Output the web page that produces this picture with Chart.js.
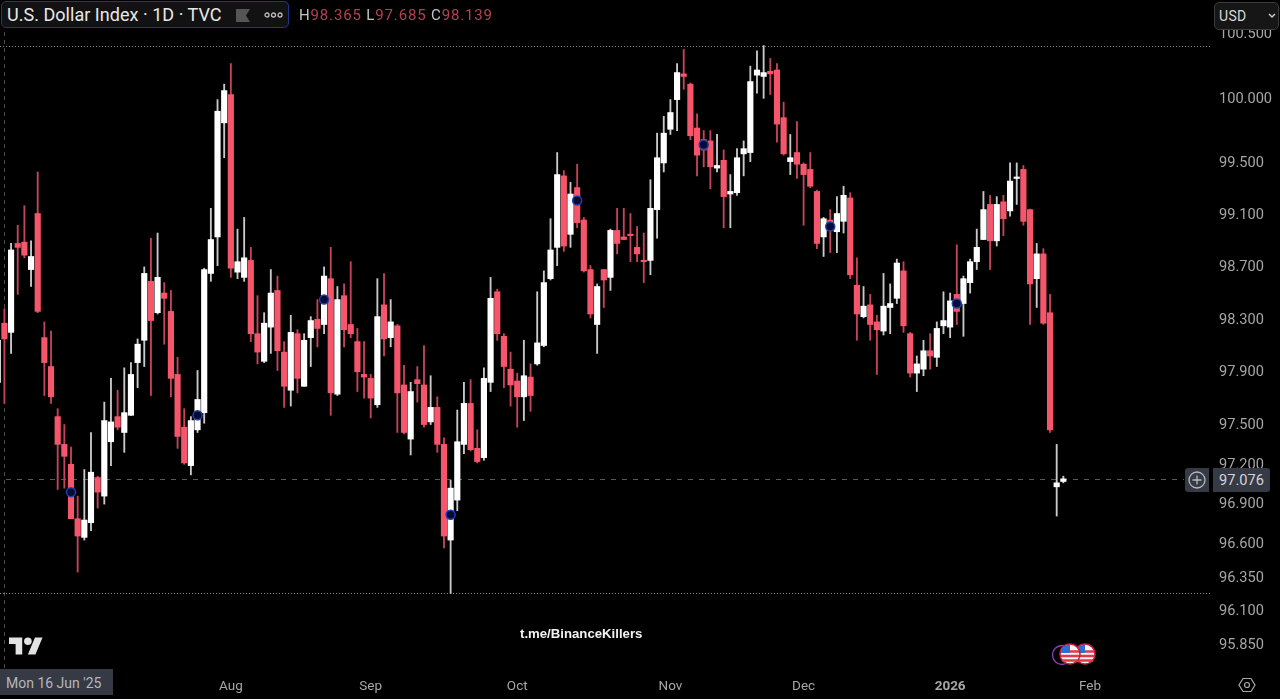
<!DOCTYPE html>
<html><head><meta charset="utf-8">
<script src="https://cdn.jsdelivr.net/npm/chart.js@4"></script>
<style>
html,body{margin:0;padding:0;background:#000;width:1280px;height:699px;overflow:hidden;font-family:"Roboto","Liberation Sans",sans-serif}
#c{position:absolute;left:0;top:0}
.o{position:absolute;white-space:nowrap;box-sizing:border-box}
#hdr{left:1px;top:1px;width:288px;height:27px;background:#121212;border:1.5px solid #1d3790;border-radius:5px;color:#e8e8e8;font-size:18px;line-height:25px;padding-left:5px;letter-spacing:.03px}
#ohlc{left:299px;top:6px;font-size:15px;line-height:18px;color:#c4c4c4;letter-spacing:.85px}
#ohlc span{color:#b8414f}
#usd{left:1214px;top:2px;width:65px;height:28px;background:#161616;border:1px solid #3c3c3c;border-radius:5px;color:#d8d8d8;font-size:14px;line-height:26px;padding-left:4px;letter-spacing:.3px}
#tag{left:1213px;top:468px;width:57px;height:24px;background:#363a45;border-radius:0 3px 3px 0;color:#d2d4da;font-size:14.6px;line-height:24px;padding-left:6px}
#plus{left:1185px;top:468px;width:24px;height:24px;background:#363a45;border-radius:3px 0 0 3px}
#date{left:0;top:669px;width:113px;height:26px;background:#363a45;color:#b4b6bc;font-size:14px;line-height:28px;padding-left:6px}
#wm{left:520px;top:626px;color:#f2f2f2;font:bold 13.2px "Liberation Sans",sans-serif;line-height:16px}
svg.o{overflow:visible}
</style></head><body>
<canvas id="c" width="1280" height="699"></canvas>
<div class="o" id="hdr">U.S. Dollar Index · 1D · TVC</div>
<svg class="o" style="left:236px;top:9px" width="14" height="13"><path d="M0 0H14L10 6.500L14 13H0Z" fill="#555"/></svg>
<svg class="o" style="left:264px;top:11px" width="20" height="8"><g fill="none" stroke="#bbb" stroke-width="1.300"><circle cx="3" cy="4" r="2"/><circle cx="9.500" cy="4" r="2"/><circle cx="16" cy="4" r="2"/></g></svg>
<div class="o" id="ohlc">H<span>98.365</span> L<span>97.685</span> C<span>98.139</span></div>
<div class="o" id="usd">USD</div>
<svg class="o" style="left:1268px;top:13px" width="8" height="6"><path d="M1 1L4 4L7 1" fill="none" stroke="#ccc" stroke-width="1.500"/></svg>
<div class="o" id="plus"></div>
<svg class="o" style="left:1188px;top:471px" width="18" height="18"><circle cx="9" cy="9" r="8" fill="none" stroke="#b8bac0" stroke-width="1.300"/><path d="M9 4.500V13.500M4.500 9H13.500" stroke="#b8bac0" stroke-width="1.300"/></svg>
<div class="o" id="tag">97.076</div>
<div class="o" id="date">Mon 16 Jun '25</div>
<svg class="o" style="left:9px;top:637px" width="34" height="18" viewBox="0 4 36 18"><path d="M14 22H7V11H0V4h14v18zM28 22h-8l7.500-18h8L28 22z" fill="#e2e2e2"/><circle cx="20" cy="8" r="4" fill="#e2e2e2"/></svg>
<div class="o" id="wm">t.me/BinanceKillers</div>
<svg class="o" style="left:1050px;top:641px" width="48" height="27">
<circle cx="12" cy="14" r="9.500" fill="#000" stroke="#8c3fc4" stroke-width="1.300"/>
<g id="f2"><circle cx="35" cy="13" r="10" fill="#f4f4f4" stroke="#c81e3c" stroke-width="1.500"/><path d="M26.500 10.500H44M26 15H44M27 19.500H43" stroke="#dd3a4a" stroke-width="2.400"/><path d="M26 12V7.500Q28 4.500 35 3.500V12Z" fill="#2c6fd0"/></g>
<circle cx="20" cy="13" r="10" fill="#f4f4f4" stroke="#c81e3c" stroke-width="1.500"/><path d="M11.500 10.500H29M11 15H29M12 19.500H28" stroke="#dd3a4a" stroke-width="2.400"/><path d="M11 12V7.500Q13 4.500 20 3.500V12Z" fill="#2c6fd0"/>
</svg>
<svg class="o" style="left:1238px;top:676px" width="18" height="18"><path d="M5 2.500H13L17 9L13 15.500H5L1 9Z" fill="none" stroke="#aaa" stroke-width="1.200"/><circle cx="9" cy="9" r="2.500" fill="none" stroke="#aaa" stroke-width="1.200"/></svg>
<script>
const high=[98.17,98.37,98.87,99.01,99.16,98.89,99.42,98.27,98.20,97.61,97.49,97.32,96.95,97.15,97.43,97.10,97.66,97.84,97.75,97.92,97.96,98.14,98.69,98.91,98.95,98.57,98.51,98.00,97.61,97.55,97.90,98.68,99.14,99.98,100.10,100.26,98.98,99.07,98.84,98.47,98.34,98.67,98.62,98.12,98.32,98.21,98.18,98.31,98.44,98.69,98.84,98.54,98.56,98.73,98.22,98.12,97.87,98.60,98.64,98.44,98.25,97.94,97.81,97.93,98.09,97.86,97.70,97.39,97.07,97.60,97.81,97.83,97.45,97.92,98.61,98.52,98.18,98.04,97.88,98.13,97.95,98.50,98.66,99.06,99.57,99.43,99.34,99.48,99.07,98.70,98.56,98.67,98.98,99.14,99.14,99.10,99.00,98.95,99.36,99.72,99.85,99.98,100.26,100.37,100.11,99.87,99.74,99.74,99.71,99.59,99.40,99.60,99.66,100.24,100.36,100.40,100.30,100.26,99.96,99.71,99.81,99.49,99.57,99.28,99.07,99.13,99.23,99.31,99.26,98.76,98.54,98.48,98.32,98.64,98.56,98.75,98.73,98.19,98.01,98.13,98.18,98.27,98.50,98.49,98.86,98.62,98.75,98.98,99.27,99.24,99.23,99.24,99.49,99.49,99.47,99.135,98.87,98.83,98.48,97.34,97.10];
const open=[97.81,98.26,98.19,98.87,98.88,98.67,99.10,98.15,97.93,97.55,97.34,97.19,96.78,96.64,96.75,97.09,96.95,97.36,97.55,97.43,97.56,97.96,98.13,98.58,98.34,98.49,98.35,97.87,97.47,97.18,97.45,97.58,98.64,98.92,99.80,100.02,98.65,98.61,98.74,98.18,97.97,98.23,98.51,98.04,97.75,98.18,97.78,98.15,98.29,98.25,98.60,97.72,98.47,98.25,98.12,97.87,97.84,97.64,98.40,98.15,98.24,97.79,97.38,97.83,97.79,97.51,97.62,97.34,96.62,96.92,97.34,97.65,97.31,97.24,97.81,98.50,98.16,97.91,97.82,97.70,97.85,97.95,98.09,98.60,98.84,99.39,98.94,99.30,99.05,98.67,98.25,98.67,98.61,98.97,98.92,98.94,98.84,98.74,98.74,99.13,99.49,99.75,99.98,100.18,100.10,99.76,99.67,99.66,99.45,99.51,99.25,99.26,99.56,99.57,100.17,100.16,100.20,100.21,99.84,99.50,99.57,99.48,99.44,99.27,98.92,99.05,98.96,99.04,99.22,98.55,98.31,98.40,98.27,98.20,98.38,98.45,98.66,98.18,97.88,97.91,98.05,98.00,98.24,98.23,98.48,98.41,98.57,98.73,98.90,99.17,98.89,99.19,99.12,99.37,99.44,99.13,98.60,98.79,98.34,97.02,97.06];
const close=[98.13,98.14,98.82,98.84,98.78,98.77,98.35,97.96,97.70,97.34,97.25,96.78,96.65,96.77,97.13,96.98,97.52,97.51,97.47,97.58,97.87,98.10,98.64,98.28,98.61,98.45,97.84,97.40,97.20,97.52,97.68,98.67,98.90,99.89,100.05,98.68,98.73,98.76,98.18,98.04,98.26,98.49,98.05,97.78,98.19,97.84,98.13,98.28,98.22,98.62,97.73,98.44,98.21,98.18,97.89,97.85,97.69,98.31,98.14,98.27,97.73,97.43,97.74,97.80,97.49,97.62,97.34,96.65,97.01,97.36,97.65,97.30,97.21,97.84,98.45,98.18,97.93,97.79,97.70,97.86,97.71,98.11,98.57,98.82,99.40,98.85,99.25,99.03,98.66,98.33,98.54,98.59,98.97,98.87,98.90,98.93,98.79,98.73,99.14,99.53,99.72,99.88,100.19,100.16,99.70,99.55,99.59,99.46,99.47,99.23,99.27,99.53,99.60,100.12,100.21,100.19,100.18,99.79,99.56,99.53,99.48,99.40,99.31,98.87,99.06,98.97,99.10,99.24,98.63,98.33,98.39,98.25,98.21,98.39,98.41,98.72,98.24,97.88,97.95,98.05,98.01,98.22,98.28,98.43,98.35,98.60,98.73,98.84,99.13,98.89,99.17,99.06,99.35,99.38,99.04,98.56,98.79,98.26,97.45,97.05,97.08];
const low=[97.77,97.65,98.03,98.48,98.76,98.54,98.34,97.71,97.65,97.00,97.01,96.78,96.38,96.62,96.69,96.86,96.89,97.18,97.45,97.28,97.56,97.77,97.93,97.71,98.33,98.10,97.70,97.31,97.19,97.11,97.43,97.50,98.58,98.70,99.53,98.61,98.60,98.58,98.12,97.95,97.96,98.03,97.90,97.62,97.63,97.73,97.78,97.93,98.08,98.18,97.56,97.71,98.08,98.15,97.74,97.69,97.54,97.62,98.01,98.08,97.43,97.42,97.26,97.66,97.47,97.49,97.28,96.56,96.22,96.84,97.27,97.29,97.20,97.22,97.74,98.13,97.77,97.63,97.47,97.52,97.59,97.94,98.08,98.59,98.70,98.81,98.84,98.99,98.65,98.30,98.03,98.38,98.51,98.79,98.90,98.73,98.73,98.57,98.63,98.91,99.42,99.71,99.74,100.06,99.67,99.39,99.46,99.29,99.42,98.99,98.99,99.24,99.39,99.50,100.03,99.99,100.02,99.65,99.55,99.40,99.37,99.01,99.30,98.83,98.77,98.80,98.80,98.95,98.60,98.13,98.30,98.13,97.87,98.17,98.18,98.41,98.19,97.85,97.74,97.86,97.91,97.93,98.18,98.15,98.25,98.16,98.49,98.67,98.90,98.67,98.85,98.93,99.08,99.17,99.01,98.25,98.38,98.25,97.43,96.80,97.05];
const markerIndex=[11,30,49,68,87,106,125,144];
const markerValue=[96.98,97.56,98.44,96.81,99.20,99.63,99.00,98.41];
const priceTicks=[100.5,100,99.5,99.1,98.7,98.3,97.9,97.5,97.2,96.9,96.6,96.35,96.1,95.85];
const monthIndex=[35,56,78,101,121,143,164];
const monthLabels=['Aug','Sep','Oct','Nov','Dec','2026','Feb'];
const rangeHigh=100.40, rangeLow=96.22, lastPrice=97.076, crosshairIndex=1;

const UP='#ffffff', DOWN='#f6566b', UPW='#c9c9c9', DOWNW='#c4445a';
const idx=high.map((_,i)=>i);
const up=idx.map(i=>close[i]>=open[i]);

const overlay={id:'overlay',beforeDatasetsDraw(ch){
  const {ctx,chartArea:a,scales:{x,y}}=ch;
  ctx.save();ctx.lineWidth=1;
  ctx.strokeStyle='#8a8a8a';ctx.setLineDash([1,2]);
  [rangeHigh,rangeLow].forEach(v=>{const p=Math.round(y.getPixelForValue(v))+.5;ctx.beginPath();ctx.moveTo(0,p);ctx.lineTo(a.right-2,p);ctx.stroke();});
  ctx.strokeStyle='#5a5a5a';ctx.setLineDash([5,6]);
  const p=Math.round(y.getPixelForValue(lastPrice))+.5;ctx.beginPath();ctx.moveTo(6,p);ctx.lineTo(1184,p);ctx.stroke();
  ctx.strokeStyle='#4c4c4c';ctx.setLineDash([4,4]);
  const vx=Math.round(x.getPixelForValue(crosshairIndex))+.5;ctx.beginPath();ctx.moveTo(vx,32);ctx.lineTo(vx,669);ctx.stroke();
  ctx.restore();
}};

new Chart(document.getElementById('c'),{
  data:{datasets:[
    {type:'bar',label:'Wick',order:3,grouped:false,barThickness:1.2,
     data:idx.map(i=>({x:i,y:[low[i],high[i]]})),
     backgroundColor:idx.map(i=>up[i]?UPW:DOWNW),borderWidth:0},
    {type:'bar',label:'Body',order:2,grouped:false,barThickness:5.5,minBarLength:1.5,
     data:idx.map(i=>({x:i,y:[open[i],close[i]]})),
     backgroundColor:idx.map(i=>up[i]?UP:DOWN),borderWidth:0},
    {type:'line',label:'Marks',order:1,showLine:false,
     data:markerIndex.map((m,k)=>({x:m,y:markerValue[k]})),
     pointRadius:4.5,pointBorderWidth:1.5,pointBackgroundColor:'#060b33',pointBorderColor:'#1f3fb0'}
  ]},
  options:{responsive:false,animation:false,devicePixelRatio:1,
    layout:{padding:0,autoPadding:false},
    plugins:{legend:{display:false},tooltip:{enabled:false}},
    scales:{
      x:{type:'linear',offset:false,min:0.339,max:182.32,grid:{display:false,drawTicks:false,offset:false},border:{display:false},
        afterFit(s){s.height=33;s.paddingLeft=0;s.paddingRight=0;},
        afterBuildTicks(s){s.ticks=monthIndex.map(v=>({value:v}));},
        ticks:{autoSkip:false,maxRotation:0,padding:13,color:'#a6a6a6',
          font:c=>({family:'Roboto',size:13.5,weight:c.tick&&monthLabels[monthIndex.indexOf(c.tick.value)]==='2026'?'bold':'normal'}),
          callback:v=>monthLabels[monthIndex.indexOf(v)]}},
      y:{type:'logarithmic',position:'right',bounds:'data',min:95.68,max:100.756,grid:{display:false,drawTicks:false},border:{display:false},
        afterFit(s){s.width=68;s.paddingTop=0;s.paddingBottom=0;},
        afterBuildTicks(s){s.ticks=priceTicks.map(v=>({value:v}));},
        ticks:{autoSkip:false,padding:7,labelOffset:2,color:'#a6a6a6',font:{family:'Roboto',size:14.6},
          callback:v=>v.toFixed(3)}}
    }
  },
  plugins:[overlay]
});
</script></body></html>
